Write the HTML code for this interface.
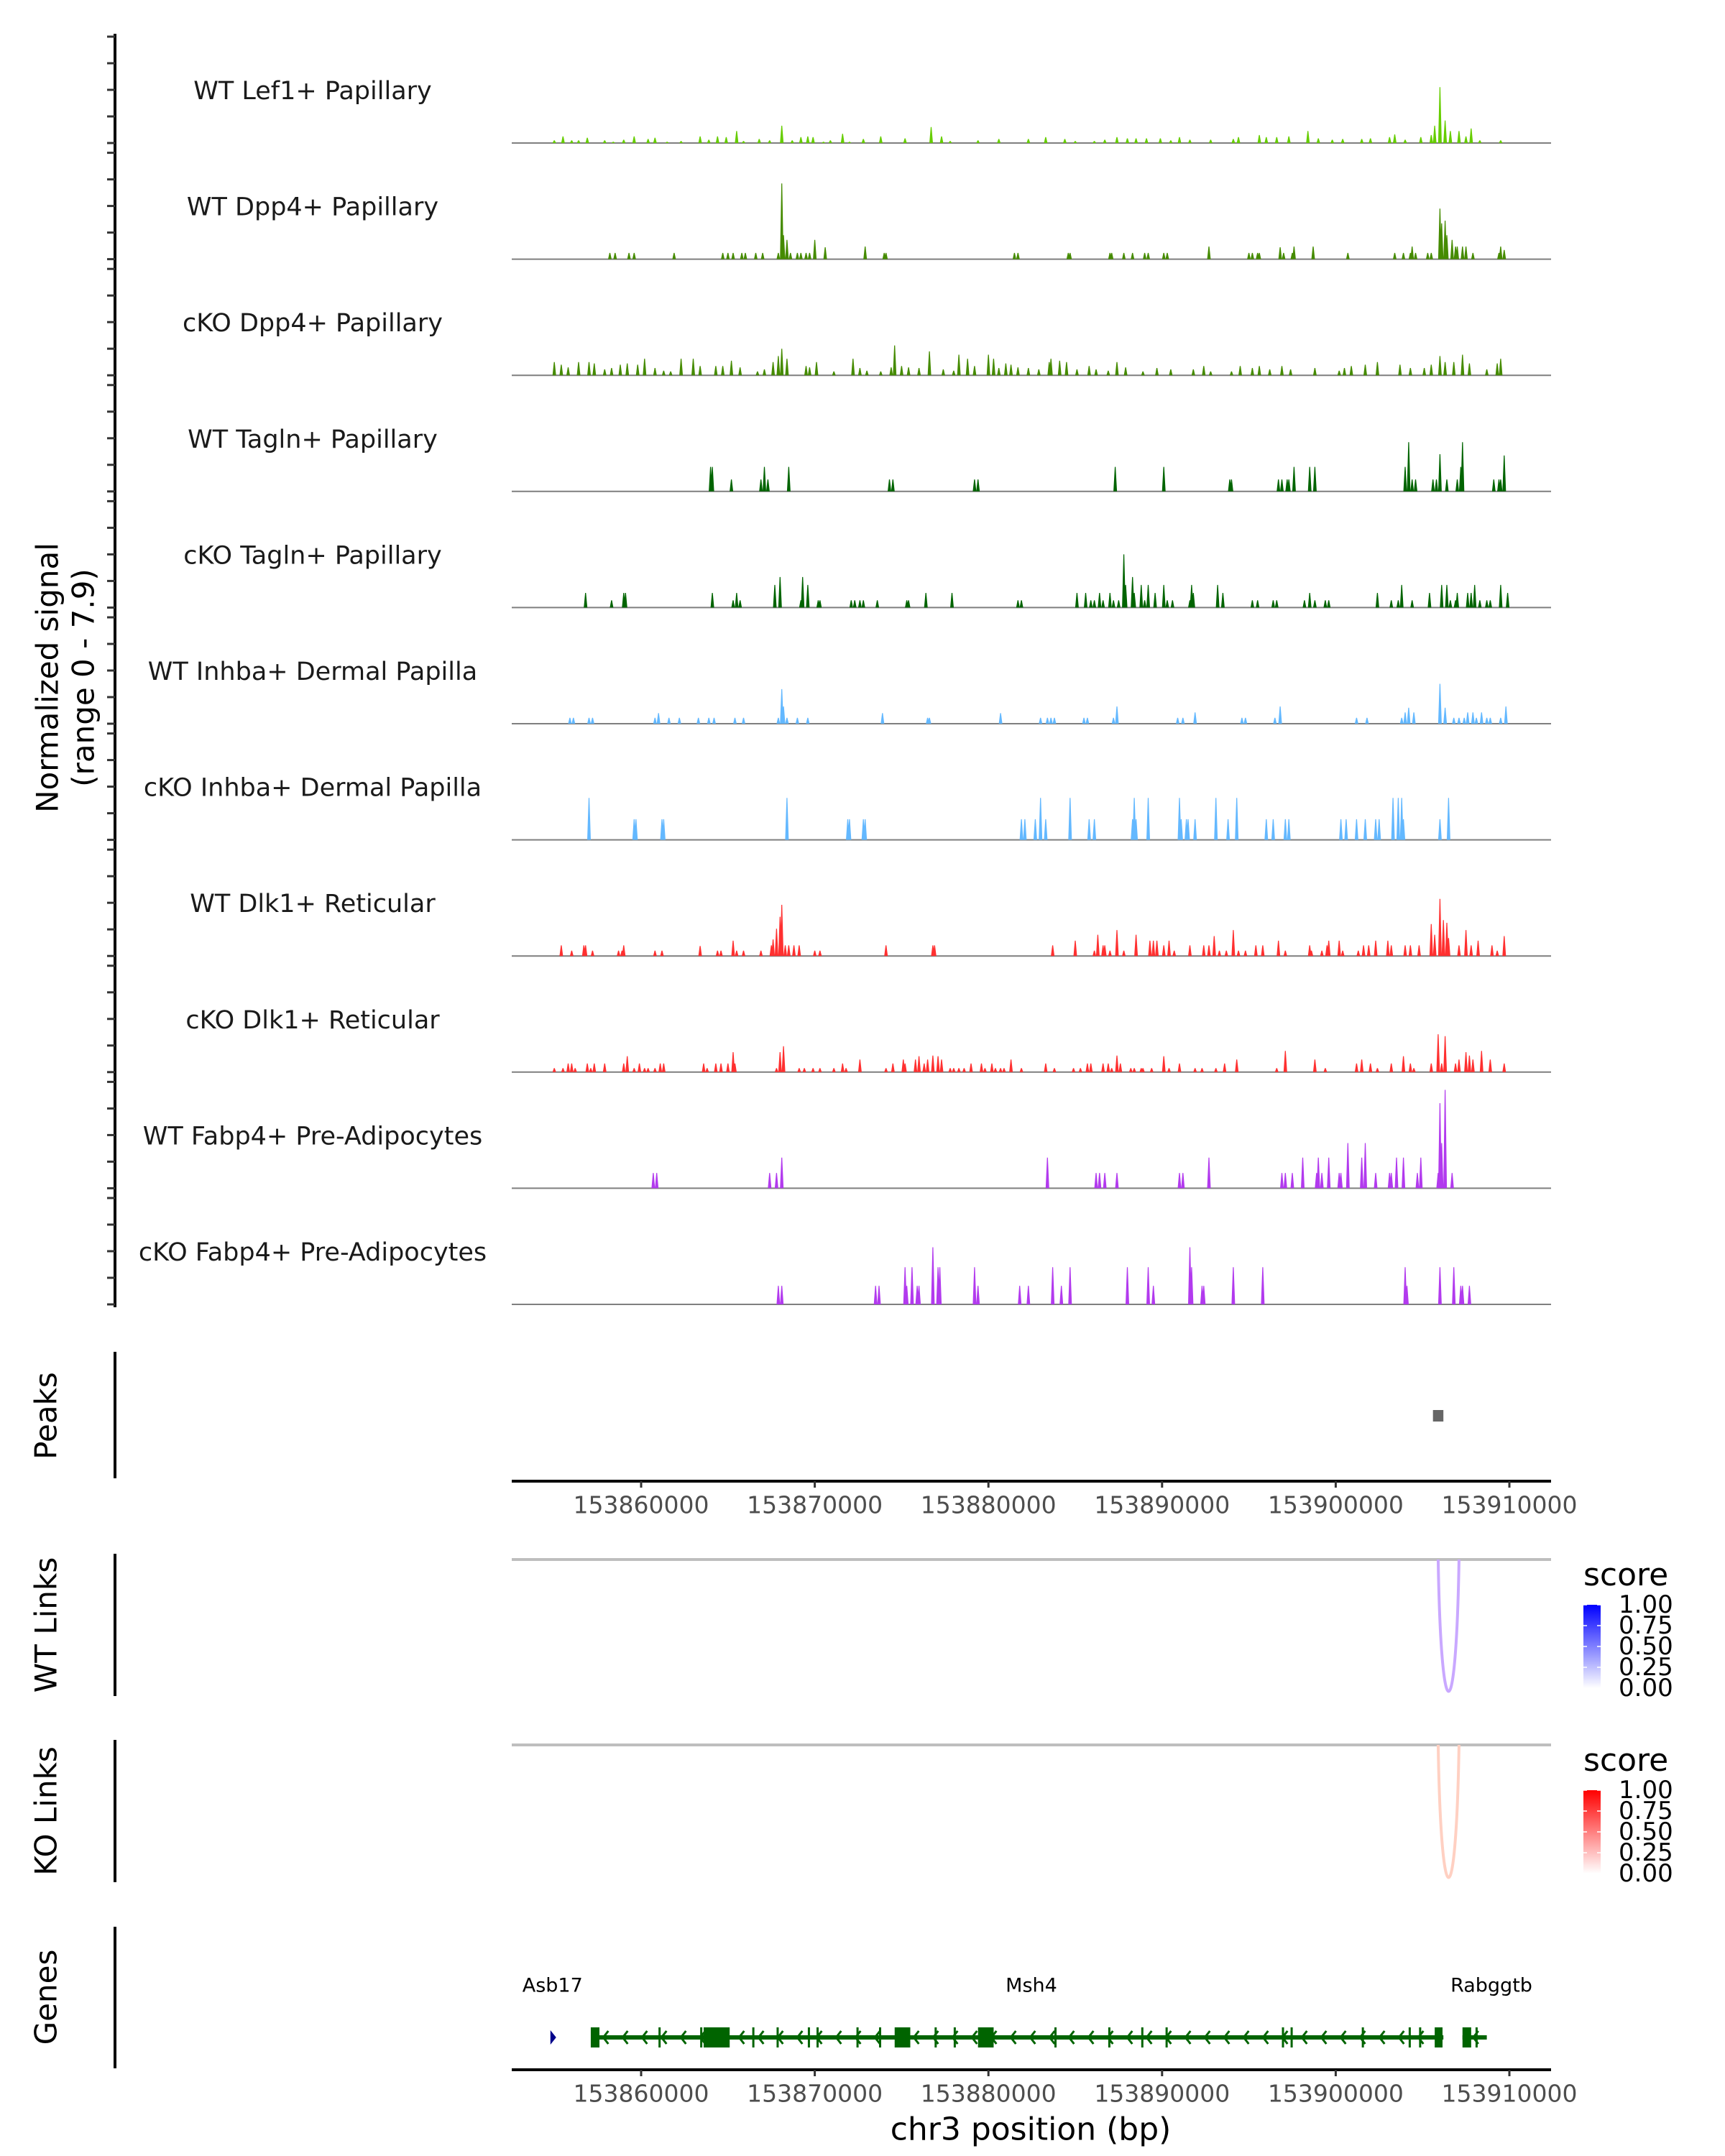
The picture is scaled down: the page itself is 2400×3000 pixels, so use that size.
<!DOCTYPE html>
<html><head><meta charset="utf-8"><title>Coverage plot chr3</title>
<style>html,body{margin:0;padding:0;background:#fff}svg{display:block}text{font-family:"DejaVu Sans","Liberation Sans",sans-serif}</style>
</head><body>
<svg id="chart" width="2400" height="3000" viewBox="0 0 2400 3000" xmlns="http://www.w3.org/2000/svg"></svg>
<script>
// positions in kb offset from 153,800,000 bp; values = normalized signal
const trackNames = ["WT Lef1+ Papillary","WT Dpp4+ Papillary","cKO Dpp4+ Papillary","WT Tagln+ Papillary","cKO Tagln+ Papillary","WT Inhba+ Dermal Papilla","cKO Inhba+ Dermal Papilla","WT Dlk1+ Reticular","cKO Dlk1+ Reticular","WT Fabp4+ Pre-Adipocytes","cKO Fabp4+ Pre-Adipocytes"];
const trackColors = ["#66CD00","#458B00","#458B00","#006400","#006400","#63B8FF","#63B8FF","#FF3030","#FF3030","#B23AEE","#B23AEE"];
const xTicks = [153860000,153870000,153880000,153890000,153900000,153910000];
const lef1WT = [[55.0,0.2],[55.5,0.5],[56.0,0.2],[56.4,0.2],[56.9,0.4],[57.9,0.2],[58.4,0.1],[59.0,0.25],[59.6,0.5],[60.4,0.3],[60.8,0.4],[61.5,0.1],[62.3,0.15],[63.4,0.5],[63.9,0.25],[64.4,0.5],[64.9,0.45],[65.5,0.9],[65.9,0.15],[66.8,0.3],[67.4,0.2],[68.1,1.3],[68.7,0.2],[69.2,0.45],[69.6,0.5],[69.9,0.45],[70.5,0.1],[70.9,0.2],[71.6,0.7],[72.0,0.1],[72.8,0.3],[73.8,0.5],[75.2,0.35],[76.7,1.2],[77.3,0.5],[77.8,0.15],[79.4,0.2],[80.6,0.3],[82.3,0.3],[83.3,0.45],[84.4,0.3],[85.0,0.15],[86.1,0.15],[86.7,0.25],[87.4,0.45],[88.0,0.35],[88.5,0.35],[89.1,0.35],[89.9,0.35],[90.5,0.2],[91.0,0.45],[91.6,0.25],[92.8,0.25],[94.1,0.3],[94.4,0.45],[95.6,0.6],[96.0,0.45],[96.6,0.45],[97.3,0.5],[98.4,0.9],[99.0,0.35],[99.8,0.25],[100.4,0.3],[101.5,0.3],[102.0,0.35],[103.1,0.45],[103.4,0.65],[104.0,0.25],[104.9,0.45],[105.5,0.6],[105.7,1.3],[106.0,4.2],[106.3,1.7],[106.6,0.9],[107.1,0.9],[107.5,0.5],[107.8,1.1],[108.3,0.2],[109.5,0.2]];
const dpp4WT = [[58.2,0.47],[58.5,0.47],[59.3,0.47],[59.6,0.47],[61.9,0.47],[64.7,0.47],[65.0,0.47],[65.3,0.47],[65.8,0.47],[66.0,0.47],[66.6,0.47],[67.0,0.47],[67.9,0.47],[68.1,5.7],[68.2,1.8],[68.4,1.45],[68.6,0.47],[69.0,0.47],[69.2,0.47],[69.5,0.47],[69.7,0.47],[70.0,1.45],[70.6,0.9],[72.9,0.95],[74.0,0.47],[74.1,0.47],[81.5,0.47],[81.7,0.47],[84.6,0.47],[84.7,0.47],[87.0,0.47],[87.1,0.47],[87.8,0.47],[88.3,0.47],[89.0,0.47],[89.2,0.47],[90.1,0.47],[90.3,0.47],[92.7,0.95],[95.0,0.47],[95.2,0.47],[95.5,0.47],[95.6,0.47],[96.8,0.9],[97.0,0.47],[97.5,0.47],[97.6,0.95],[98.7,0.95],[100.7,0.47],[103.4,0.47],[103.9,0.47],[104.3,0.47],[104.4,0.95],[104.6,0.47],[105.3,0.47],[105.5,0.47],[106.0,3.8],[106.1,2.7],[106.3,2.9],[106.4,1.8],[106.7,1.45],[106.9,0.95],[107.0,0.95],[107.3,0.95],[107.5,0.95],[107.9,0.47],[109.4,0.47],[109.5,0.95],[109.7,0.7]];
const dpp4KO = [[55.0,1.0],[55.4,0.8],[55.8,0.6],[56.4,1.0],[57.0,1.0],[57.3,0.9],[57.9,0.45],[58.3,0.55],[58.8,0.8],[59.2,0.9],[59.8,0.8],[60.2,1.25],[60.8,0.55],[61.3,0.35],[61.7,0.3],[62.3,1.25],[63.0,1.25],[63.4,0.7],[64.3,0.7],[64.7,0.7],[65.2,1.1],[65.7,0.6],[66.7,0.3],[67.1,0.45],[67.6,1.0],[67.9,1.45],[68.1,2.0],[68.4,1.25],[69.5,0.7],[69.7,0.6],[70.1,1.0],[71.1,0.3],[72.2,1.25],[72.6,0.55],[73.0,0.35],[73.8,0.3],[74.4,0.6],[74.6,2.25],[75.0,0.7],[75.4,0.6],[76.0,0.55],[76.6,1.8],[77.4,0.45],[78.0,0.35],[78.3,1.55],[78.8,1.25],[79.2,0.7],[80.0,1.55],[80.3,1.25],[80.6,0.55],[81.0,0.9],[81.3,0.8],[81.7,0.6],[82.3,0.55],[82.9,0.45],[83.5,1.0],[83.6,1.25],[84.1,1.1],[84.5,1.0],[85.1,0.45],[85.8,0.7],[86.2,0.45],[86.9,0.35],[87.4,1.0],[87.9,0.6],[88.9,0.3],[89.7,0.55],[90.5,0.45],[91.8,0.45],[92.4,0.7],[92.8,0.3],[94.0,0.3],[94.5,0.7],[95.2,0.55],[95.6,0.7],[96.2,0.45],[96.9,0.7],[97.4,0.45],[98.8,0.55],[100.2,0.35],[100.5,0.55],[100.9,0.7],[101.7,0.8],[102.4,1.0],[103.7,0.8],[104.3,0.55],[105.1,0.55],[105.5,0.8],[106.0,1.45],[106.3,1.0],[106.8,1.0],[107.3,1.55],[107.7,0.9],[108.7,0.45],[109.3,0.9],[109.5,1.25]];
const taglnWT = [[64.0,1.85],[64.1,1.85],[65.2,0.9],[66.9,0.9],[67.1,1.85],[67.3,0.9],[68.5,1.85],[74.3,0.9],[74.5,0.9],[79.2,0.9],[79.4,0.9],[87.3,1.85],[90.1,1.85],[93.9,0.9],[94.0,0.9],[96.7,0.9],[96.9,0.9],[97.2,0.9],[97.3,0.9],[97.6,1.85],[98.5,1.85],[98.8,1.85],[104.0,1.85],[104.2,3.7],[104.4,0.9],[104.6,0.9],[105.6,0.9],[105.8,0.9],[106.0,2.8],[106.4,0.9],[107.0,0.9],[107.2,1.85],[107.3,3.7],[109.1,0.9],[109.4,0.9],[109.5,0.9],[109.7,2.7]];
const taglnKO = [[56.8,1.1],[58.3,0.55],[59.0,1.1],[59.1,1.1],[64.1,1.1],[65.3,0.55],[65.5,1.1],[65.7,0.55],[67.7,1.7],[68.0,2.3],[69.2,0.55],[69.3,2.3],[69.6,1.7],[70.2,0.55],[70.3,0.55],[72.1,0.55],[72.3,0.55],[72.6,0.55],[72.8,0.55],[73.6,0.55],[75.3,0.55],[75.4,0.55],[76.4,1.1],[77.9,1.1],[81.7,0.55],[81.9,0.55],[85.1,1.1],[85.6,1.1],[85.9,0.55],[86.1,0.55],[86.4,1.1],[86.6,0.55],[87.0,1.1],[87.2,0.55],[87.5,0.55],[87.8,4.0],[87.9,1.7],[88.3,2.3],[88.4,1.1],[88.8,1.7],[89.0,0.55],[89.2,1.7],[89.6,1.1],[90.1,1.7],[90.3,0.55],[90.6,0.55],[91.6,0.55],[91.7,1.7],[91.8,1.1],[93.2,1.7],[93.5,1.1],[95.2,0.55],[95.5,0.55],[96.4,0.55],[96.6,0.55],[98.2,0.55],[98.5,1.1],[98.8,0.55],[99.4,0.55],[99.6,0.55],[102.4,1.1],[103.2,0.55],[103.6,0.55],[103.8,1.7],[104.4,0.55],[105.4,1.1],[106.1,1.7],[106.4,1.7],[106.6,0.55],[106.9,0.55],[107.0,1.1],[107.6,1.1],[107.8,1.1],[108.0,1.7],[108.3,0.55],[108.7,0.55],[108.9,0.55],[109.5,1.7],[109.9,1.1]];
const inhbaWT = [[55.9,0.45],[56.1,0.45],[57.0,0.45],[57.2,0.45],[60.8,0.45],[61.0,0.8],[61.6,0.45],[62.2,0.45],[63.3,0.45],[63.9,0.45],[64.2,0.45],[65.4,0.45],[65.9,0.45],[67.9,0.45],[68.1,2.6],[68.2,1.3],[68.4,0.45],[69.0,0.45],[69.6,0.45],[73.9,0.8],[76.5,0.45],[76.6,0.45],[80.7,0.8],[83.0,0.45],[83.4,0.45],[83.6,0.45],[83.8,0.45],[85.5,0.45],[85.7,0.45],[87.2,0.45],[87.4,1.3],[90.9,0.45],[91.2,0.45],[91.9,0.85],[94.6,0.45],[94.8,0.45],[96.5,0.45],[96.8,1.3],[101.2,0.45],[101.8,0.45],[103.8,0.45],[104.0,0.85],[104.2,1.2],[104.5,0.85],[106.0,3.0],[106.3,1.2],[106.8,0.45],[107.1,0.45],[107.4,0.45],[107.6,0.85],[107.9,0.85],[108.1,0.45],[108.4,0.85],[108.7,0.45],[108.9,0.45],[109.5,0.45],[109.8,1.3]];
const inhbaKO = [[57.0,3.15],[59.6,1.55],[59.7,1.55],[61.2,1.55],[61.3,1.55],[68.4,3.15],[71.9,1.55],[72.0,1.55],[72.8,1.55],[72.9,1.55],[81.9,1.55],[82.1,1.55],[82.7,1.55],[83.0,3.15],[83.3,1.55],[84.7,3.15],[85.8,1.55],[86.1,1.55],[88.3,1.55],[88.4,3.15],[88.5,1.55],[89.2,3.15],[91.0,3.15],[91.1,1.55],[91.4,1.55],[91.5,1.55],[91.9,1.55],[93.1,3.15],[93.8,1.55],[94.3,3.15],[96.0,1.55],[96.4,1.55],[97.1,1.55],[97.3,1.55],[100.3,1.55],[100.6,1.55],[101.2,1.55],[101.7,1.55],[102.3,1.55],[102.5,1.55],[103.3,3.15],[103.6,3.15],[103.8,3.15],[103.9,1.55],[106.0,1.55],[106.5,3.15]];
const dlk1WT = [[55.4,0.8],[56.0,0.4],[56.7,0.8],[56.8,0.8],[57.2,0.4],[58.7,0.4],[58.9,0.4],[59.0,0.8],[60.8,0.4],[61.2,0.4],[63.4,0.75],[64.4,0.4],[64.6,0.4],[65.3,1.15],[65.5,0.4],[65.9,0.4],[66.9,0.4],[67.5,0.8],[67.6,1.25],[67.8,2.05],[68.0,2.95],[68.1,3.85],[68.3,0.8],[68.5,0.8],[68.8,0.8],[69.1,0.8],[70.0,0.4],[70.3,0.4],[74.1,0.8],[76.8,0.8],[76.9,0.8],[83.7,0.8],[85.0,1.15],[86.1,0.4],[86.3,1.6],[86.6,0.8],[86.7,0.8],[87.0,0.4],[87.4,1.95],[87.8,0.4],[88.5,1.6],[89.3,1.15],[89.5,1.15],[89.7,1.15],[90.1,0.8],[90.4,1.15],[90.7,0.4],[91.6,0.8],[92.4,0.8],[92.7,0.8],[93.0,1.5],[93.3,0.4],[93.7,0.4],[94.1,1.95],[94.4,0.4],[94.8,0.4],[95.4,0.8],[95.8,0.8],[96.7,1.15],[97.1,0.4],[98.5,0.8],[98.6,0.4],[99.2,0.4],[99.5,0.8],[99.6,1.15],[100.2,1.15],[100.4,0.4],[101.3,0.4],[101.6,0.8],[101.9,0.8],[102.3,1.15],[103.0,1.15],[103.2,0.8],[104.0,0.8],[104.3,0.8],[104.8,0.8],[105.5,2.4],[105.7,1.6],[106.0,4.3],[106.2,2.7],[106.4,2.5],[106.5,1.35],[107.1,0.8],[107.5,1.95],[107.8,0.8],[108.2,1.15],[109.0,0.8],[109.3,0.4],[109.7,1.5]];
const dlk1KO = [[55.0,0.3],[55.5,0.3],[55.8,0.65],[56.0,0.65],[56.2,0.3],[56.9,0.65],[57.1,0.3],[57.3,0.65],[57.9,0.65],[59.0,0.65],[59.2,1.2],[59.6,0.3],[59.9,0.65],[60.2,0.3],[60.4,0.3],[60.8,0.3],[61.1,0.65],[61.3,0.65],[63.6,0.65],[63.8,0.3],[64.3,0.65],[64.6,0.65],[65.0,0.65],[65.3,1.5],[65.4,0.65],[67.8,0.3],[68.0,1.5],[68.2,1.95],[69.1,0.3],[69.4,0.3],[69.9,0.3],[70.3,0.3],[71.1,0.3],[71.6,0.65],[71.8,0.3],[72.6,0.95],[74.1,0.3],[74.5,0.65],[75.1,0.95],[75.2,0.65],[75.8,0.95],[76.0,1.2],[76.3,0.65],[76.5,0.95],[76.8,1.25],[77.1,1.2],[77.3,0.95],[77.8,0.3],[78.0,0.3],[78.3,0.3],[78.6,0.3],[79.0,0.65],[79.6,0.65],[79.8,0.3],[80.2,0.65],[80.4,0.3],[80.7,0.3],[80.9,0.3],[81.3,0.95],[81.9,0.3],[83.3,0.65],[83.8,0.3],[84.9,0.3],[85.3,0.3],[85.7,0.65],[85.9,0.65],[86.6,0.65],[86.9,0.65],[87.1,0.3],[87.4,1.25],[87.6,0.65],[88.2,0.3],[88.4,0.3],[88.8,0.3],[88.9,0.3],[89.4,0.3],[90.1,1.2],[90.4,0.3],[91.0,0.65],[91.9,0.3],[92.3,0.3],[93.1,0.3],[93.6,0.65],[94.3,0.95],[96.6,0.3],[97.1,1.6],[98.8,0.95],[99.4,0.3],[101.2,0.65],[101.5,0.95],[102.0,0.65],[102.4,0.3],[103.2,0.65],[103.9,1.2],[104.3,0.65],[104.5,0.3],[105.5,0.65],[105.9,2.85],[106.1,0.65],[106.3,2.7],[106.9,0.65],[107.1,0.95],[107.5,1.5],[107.7,1.25],[107.9,0.95],[108.4,1.6],[108.9,0.95],[109.7,0.65]];
const fabp4WT = [[60.7,1.15],[60.9,1.15],[67.4,1.15],[67.8,1.15],[68.1,2.3],[83.4,2.3],[86.2,1.15],[86.4,1.15],[86.7,1.15],[87.4,1.15],[91.0,1.15],[91.2,1.15],[92.7,2.3],[96.9,1.15],[97.1,1.15],[97.5,1.15],[98.1,2.3],[98.9,1.15],[99.0,2.3],[99.2,1.15],[99.6,2.3],[100.2,1.15],[100.3,1.15],[100.7,3.4],[101.5,2.3],[101.7,3.4],[102.3,1.15],[103.1,1.15],[103.2,1.15],[103.5,2.3],[103.9,2.3],[104.7,1.15],[104.9,2.3],[105.9,1.15],[106.0,6.4],[106.1,3.4],[106.3,7.4],[106.7,1.15]];
const fabp4KO = [[67.9,1.4],[68.1,1.4],[73.5,1.4],[73.7,1.4],[75.2,2.8],[75.3,1.4],[75.6,2.8],[75.9,1.4],[76.0,1.4],[76.8,4.3],[77.1,2.8],[77.2,2.8],[79.2,2.8],[79.4,1.4],[81.8,1.4],[82.3,1.4],[83.7,2.8],[84.2,1.4],[84.7,2.8],[88.0,2.8],[89.2,2.8],[89.5,1.4],[91.6,4.3],[91.7,2.8],[92.3,1.4],[92.4,1.4],[94.1,2.8],[95.8,2.8],[104.0,2.8],[104.1,1.4],[106.0,2.8],[106.8,2.8],[107.2,1.4],[107.3,1.4],[107.7,1.4]];
const peakRanges = [[105.6,106.2]];
const msh4Extent = [57.2,106.2];
const msh4Exons = [[57.1,57.6],[61.0,61.1],[63.4,63.5],[63.6,65.1],[66.4,66.5],[67.8,67.9],[69.6,69.7],[70.1,70.2],[72.4,72.5],[73.7,73.8],[74.6,75.5],[76.9,77.0],[78.0,78.1],[79.4,80.3],[83.8,83.9],[86.9,87.0],[88.8,88.9],[90.2,90.3],[96.9,97.0],[97.4,97.5],[101.5,101.6],[104.2,104.3],[104.8,104.9],[105.7,106.15]];
const rabExtent = [107.3,108.7];
const rabExons = [[107.3,107.8],[108.05,108.15]];
const asb17Pos = 54.9;
const wtLinks = [[105.9,107.1,0.3]];
const koLinks = [[105.9,107.1,0.2]];
const legendTicks = ["1.00","0.75","0.50","0.25","0.00"];

const tracks = [lef1WT,dpp4WT,dpp4KO,taglnWT,taglnKO,inhbaWT,inhbaKO,dlk1WT,dlk1KO,fabp4WT,fabp4KO];
const svg = document.getElementById('chart');
const NS = 'http://www.w3.org/2000/svg';
function el(tag, attrs, parent){const e=document.createElementNS(NS,tag);for(const k in attrs)e.setAttribute(k,attrs[k]);(parent||svg).appendChild(e);return e;}
const X0=712, X1=2158;
function xs(kb){return 892+(kb-60)*24.16;}
function xbp(bp){return 892+(bp-153860000)/1000*24.16;}
const PX_PER_UNIT=18.5;
function base(i){return 199+i*161.6;}

let ax=el('line',{x1:160,y1:47,x2:160,y2:1819,stroke:'#000','stroke-width':4});


for(let i=0;i<11;i++){
  for(let k=0;k<=4;k++){
    const y=base(i)-k*2*PX_PER_UNIT;
    const t=el('line',{x1:149,y1:y,x2:160,y2:y,stroke:'#333','stroke-width':3});
    
    
  }
}
function rotText(txt,x,y,size,name){
  const t=el('text',{x:0,y:0,transform:`translate(${x},${y}) rotate(-90)`,'text-anchor':'middle','font-size':size,fill:'#000','dominant-baseline':'central'});
  t.textContent=txt;
  
  
}
rotText('Normalized signal',66,943,42,'y-axis-title');
rotText('(range 0 - 7.9)',116,943,42,'y-axis-range');
rotText('Peaks',64,1970,42,'peaks-label');
rotText('WT Links',64,2261,42,'wt-links-label');
rotText('KO Links',64,2520,42,'ko-links-label');
rotText('Genes',64,2779,42,'genes-label');

tracks.forEach((data,i)=>{
  const b=base(i);
  const g=el('g',{});
  
  
  const bl=el('line',{x1:X0,y1:b,x2:X1,y2:b,stroke:'#7f7f7f','stroke-width':2},g);
  
  
  let d='';
  data.forEach(([kb,v])=>{
    const x=xs(kb), h=v*PX_PER_UNIT;
    d+=`M${(x-2.5).toFixed(1)},${b} L${(x-0.6).toFixed(1)},${(b-h).toFixed(1)} L${(x+0.6).toFixed(1)},${(b-h).toFixed(1)} L${(x+2.5).toFixed(1)},${b} Z `;
  });
  const p=el('path',{d:d,fill:trackColors[i],stroke:'none'},g);
  
  
  const lab=el('text',{x:435,y:b-72,'text-anchor':'middle','font-size':35,fill:'#1a1a1a','dominant-baseline':'central'},g);
  lab.textContent=trackNames[i];
  
  
});

const pa=el('line',{x1:160,y1:1881,x2:160,y2:2057,stroke:'#000','stroke-width':4});


peakRanges.forEach(([s,e])=>{
  const r=el('rect',{x:xs(s),y:1962,width:Math.max(xs(e)-xs(s),14),height:16,fill:'#666'});
  
  
});
function xAxis(y,name){
  const l=el('line',{x1:X0,y1:y,x2:X1,y2:y,stroke:'#000','stroke-width':4});
  
  
  xTicks.forEach(t=>{
    const x=xbp(t);
    const tk=el('line',{x1:x,y1:y,x2:x,y2:y+9,stroke:'#333','stroke-width':3});
    
    
    const tl=el('text',{x:x,y:y+33,'text-anchor':'middle','font-size':33,fill:'#4d4d4d','dominant-baseline':'central'});
    tl.textContent=String(t);
    
    
  });
}
xAxis(2061,'peaks-x-axis');

function linkPanel(y0,y1,lineY,links,col,name){
  const a=el('line',{x1:160,y1:y0,x2:160,y2:y1,stroke:'#000','stroke-width':4});
  
  
  const l=el('line',{x1:X0,y1:lineY,x2:X1,y2:lineY,stroke:'#bebebe','stroke-width':4});
  
  
  links.forEach(([s,e])=>{
    const xa=xs(s),xb=xs(e),depth=(y1-6)-lineY;
    const c=el('path',{d:`M${xa},${lineY} C${xa+4},${lineY+depth*1.33} ${xb-4},${lineY+depth*1.33} ${xb},${lineY}`,fill:'none',stroke:col,'stroke-width':4});
    
    
  });
}
linkPanel(2162,2360,2170,wtLinks,'#c9a8ff','wt-links');
linkPanel(2421,2619,2428,koLinks,'#ffd0c2','ko-links');

const defs=el('defs',{});
function grad(id,c){const g=el('linearGradient',{id:id,x1:0,y1:0,x2:0,y2:1},defs);el('stop',{offset:'0',"stop-color":c},g);el('stop',{offset:'1',"stop-color":'#ffffff'},g);}
grad('gb','#0000ff');grad('gr','#ff0000');
function legend(y,id,name){
  const t=el('text',{x:2203,y:y,'font-size':44,fill:'#000'});
  t.textContent='score';
  
  
  const top=y+27,h=116;
  const r=el('rect',{x:2203,y:top,width:24,height:h,fill:`url(#${id})`});
  
  
  legendTicks.forEach((lb,k)=>{
    const yy=top+k*h/4;
    el('line',{x1:2203,y1:yy,x2:2208,y2:yy,stroke:'#fff','stroke-width':1.5});
    el('line',{x1:2222,y1:yy,x2:2227,y2:yy,stroke:'#fff','stroke-width':1.5});
    const tl=el('text',{x:2252,y:yy,'font-size':34,fill:'#000','dominant-baseline':'central'});
    tl.textContent=lb;
    
    
  });
}
legend(2206,'gb','wt-legend');
legend(2464,'gr','ko-legend');

const ga=el('line',{x1:160,y1:2681,x2:160,y2:2878,stroke:'#000','stroke-width':4});


const GY=2835;
function gene(ext,exons,name){
  const g=el('g',{});
  
  
  el('line',{x1:xs(ext[0]),y1:GY,x2:xs(ext[1]),y2:GY,stroke:'#006400','stroke-width':6},g);
  for(let x=xs(ext[0])+18;x<xs(ext[1])-8;x+=27){
    el('path',{d:`M${x+4},${GY-9} L${x-3},${GY} L${x+4},${GY+9}`,fill:'none',stroke:'#006400','stroke-width':3},g);
  }
  exons.forEach(([s,e])=>{
    const r=el('rect',{x:xs(s),y:GY-14,width:Math.max(xs(e)-xs(s),3),height:28,fill:'#006400'},g);
    
    
  });
}
gene(msh4Extent,msh4Exons,'gene-msh4');
gene(rabExtent,rabExons,'gene-rabggtb');
const asb=el('path',{d:`M${xs(asb17Pos)-3},${GY-10} L${xs(asb17Pos)+5},${GY} L${xs(asb17Pos)-3},${GY+10} Z`,fill:'#00008b'});


[['Asb17',xs(asb17Pos)],['Msh4',1435],['Rabggtb',2075]].forEach(([n,x])=>{
  const t=el('text',{x:x,y:2763,'text-anchor':'middle','font-size':27,fill:'#000','dominant-baseline':'central'});
  t.textContent=n;
  
  
});
xAxis(2880,'genes-x-axis');
const xt=el('text',{x:1434,y:2963,'text-anchor':'middle','font-size':44,fill:'#000','dominant-baseline':'central'});
xt.textContent='chr3 position (bp)';


</script>
</body></html>
